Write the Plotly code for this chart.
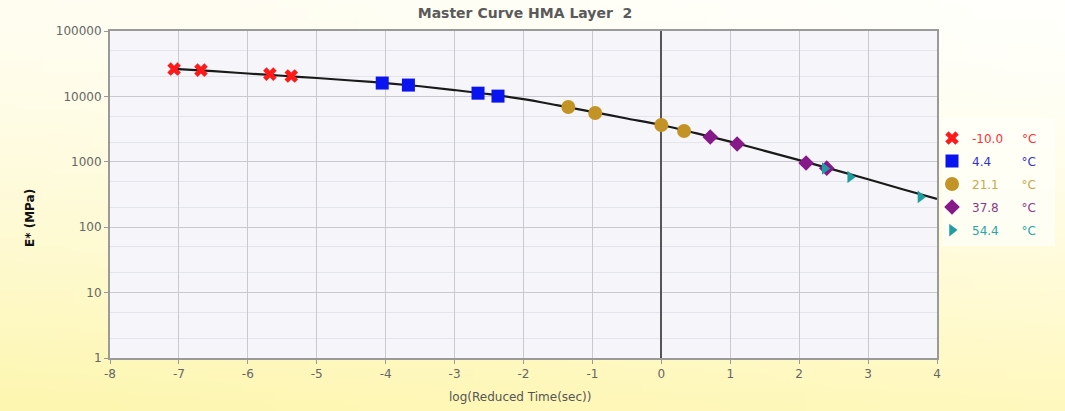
import base64
import struct
import zlib

import plotly.graph_objects as go

# ---- data -------------------------------------------------------------
temps = ["-10.0", "4.4", "21.1", "37.8", "54.4"]

logt_m10 = [-7.07, -6.68, -5.68, -5.37]
e_m10 = [26200, 25200, 21900, 20500]

logt_4 = [-4.05, -3.67, -2.66, -2.37]
e_4 = [16000, 14900, 11200, 10100]

logt_21 = [-1.35, -0.96, 0.0, 0.33]
e_21 = [6900, 5570, 3650, 2960]

logt_38 = [0.71, 1.10, 2.10, 2.40]
e_38 = [2390, 1870, 960, 800]

logt_54 = [2.37, 2.74, 3.76]
e_54 = [790, 586, 290]

curve_x = [-7.07, -6.5, -6.0, -5.5, -5.0, -4.5, -4.0, -3.5, -3.0, -2.5, -2.0,
           -1.5, -1.0, -0.5, 0.0, 0.5, 1.0, 1.5, 2.0, 2.5, 3.0, 3.5, 4.0]
curve_e = [26300, 24300, 22400, 20700, 19100, 17500, 16000, 14300, 12500, 10800,
           9100, 7300, 5800, 4600, 3650, 2750, 2030, 1470, 1060, 760, 540, 380, 270]

x_ticks = [-8, -7, -6, -5, -4, -3, -2, -1, 0, 1, 2, 3, 4]
y_ticks = [1, 10, 100, 1000, 10000, 100000]
y_tick_text = ["1", "10", "100", "1000", "10000", "100000"]


# ---- background gradient as a tiny PNG ---------------------------------
def gradient_png(w, h):
    top_l, top_r = (255, 253, 240), (255, 255, 252)
    bot_l, bot_r = (253, 246, 176), (255, 248, 190)
    raw = bytearray()
    for j in range(h):
        v = (j / (h - 1)) ** 1.4
        raw.append(0)
        for i in range(w):
            u = i / (w - 1)
            px = []
            for c in range(3):
                t = top_l[c] + (top_r[c] - top_l[c]) * u
                b = bot_l[c] + (bot_r[c] - bot_l[c]) * u
                px.append(int(round(t + (b - t) * v)))
            raw.extend(px)

    def chunk(tag, data):
        out = struct.pack(">I", len(data)) + tag + data
        return out + struct.pack(">I", zlib.crc32(tag + data) & 0xFFFFFFFF)

    png = b"\x89PNG\r\n\x1a\n"
    png += chunk(b"IHDR", struct.pack(">IIBBBBB", w, h, 8, 2, 0, 0, 0))
    png += chunk(b"IDAT", zlib.compress(bytes(raw), 9))
    png += chunk(b"IEND", b"")
    return "data:image/png;base64," + base64.b64encode(png).decode()


# ---- figure -------------------------------------------------------------
FONT = "DejaVu Sans"
PLOT_W, PLOT_H = 827, 327
fig = go.Figure()

fig.add_trace(go.Scatter(
    x=curve_x, y=curve_e, mode="lines", line=dict(color="#1a1a1a", width=2.2, shape="spline"),
    showlegend=False, hoverinfo="skip"))

# (label, x, y, symbol, marker colour, size, legend text colour, padding before unit)
series = [
    (temps[0], logt_m10, e_m10, "x", "#ff1a1a", 12, "#ff3030", 5),
    (temps[1], logt_4, e_4, "square", "#0a14f0", 13, "#3333cc", 8),
    (temps[2], logt_21, e_21, "circle", "#c39425", 14, "#c8a850", 6),
    (temps[3], logt_38, e_38, "diamond", "#86188a", 12, "#8a3a8a", 6),
    (temps[4], logt_54, e_54, "triangle-right", "#1e9ea0", 11, "#2aa6a6", 6),
]
for i, (name, xs, ys, sym, col, size, txtcol, pad) in enumerate(series):
    label = f"<span style='color:{txtcol}'>{name}{'&nbsp;' * pad}°C</span>"
    fig.add_trace(go.Scatter(
        x=xs, y=ys, mode="markers", name=label, legendgroup=f"g{i}",
        marker=dict(symbol=sym, color=col, size=size, line=dict(width=0))))

fig.update_layout(
    width=1065, height=411,
    margin=dict(l=110, r=128, t=31, b=53),
    paper_bgcolor="#fffdf0",
    plot_bgcolor="#f6f6fa",
    images=[dict(source=gradient_png(64, 32), xref="paper", yref="paper",
                 x=-110 / PLOT_W, y=1 + 31 / PLOT_H, sizex=1065 / PLOT_W, sizey=411 / PLOT_H,
                 xanchor="left", yanchor="top", sizing="stretch", layer="below")],
    shapes=[
        dict(type="rect", xref="x domain", yref="y domain", x0=0, x1=1, y0=0, y1=1,
             fillcolor="#f6f6fa", line=dict(width=0), layer="below"),
        # pale legend panel
        dict(type="rect", xref="paper", yref="paper",
             x0=(942 - 110) / PLOT_W, x1=(1055 - 110) / PLOT_W,
             y0=(358 - 246) / PLOT_H, y1=(358 - 118) / PLOT_H,
             fillcolor="rgba(255,255,250,0.75)", line=dict(width=0), layer="below"),
    ],
    title=dict(text="<b>Master Curve HMA Layer  2</b>", x=0.493, xanchor="center",
               y=1 - 13 / 411, yanchor="middle", yref="container",
               font=dict(family=FONT, size=14, color="#5a5a5a")),
    legend=dict(x=(932 - 110) / PLOT_W, xanchor="left", y=0.717, yanchor="top",
                bgcolor="rgba(0,0,0,0)", borderwidth=0,
                font=dict(family=FONT, size=12), tracegroupgap=4,
                itemwidth=30),
    showlegend=True,
    font=dict(family=FONT, size=12, color="#666666"),
    annotations=[
        dict(text="<b>E* (MPa)</b>", textangle=-90, xref="paper", yref="paper",
             x=-80 / PLOT_W, y=(358 - 218) / PLOT_H, xanchor="center", yanchor="middle",
             showarrow=False, font=dict(family=FONT, size=12, color="#111111")),
        dict(text="log(Reduced Time(sec))", xref="paper", yref="paper",
             x=(520 - 110) / PLOT_W, y=-(397 - 358) / PLOT_H, xanchor="center", yanchor="middle",
             showarrow=False, font=dict(family=FONT, size=12, color="#555555")),
    ],
)

fig.update_xaxes(
    range=[-8, 4], tickvals=x_ticks, ticktext=[str(v) for v in x_ticks],
    showgrid=True, gridcolor="#c9c9cf", gridwidth=1,
    zeroline=True, zerolinecolor="#555555", zerolinewidth=1.5,
    showline=True, linecolor="#9a9a9a", linewidth=2, mirror=True,
    ticks="outside", ticklen=4, tickcolor="#9a9a9a",
    tickfont=dict(family=FONT, size=12, color="#666666"))

fig.update_yaxes(
    type="log", range=[0, 5], tickvals=y_ticks, ticktext=y_tick_text,
    showgrid=True, gridcolor="#c9c9cf", gridwidth=1,
    minor=dict(showgrid=True, gridcolor="#e4e4ec", gridwidth=1, ticks=""),
    showline=True, linecolor="#9a9a9a", linewidth=2, mirror=True,
    ticks="outside", ticklen=4, tickcolor="#9a9a9a",
    tickfont=dict(family=FONT, size=12, color="#666666"))

fig.write_html("out.html")
